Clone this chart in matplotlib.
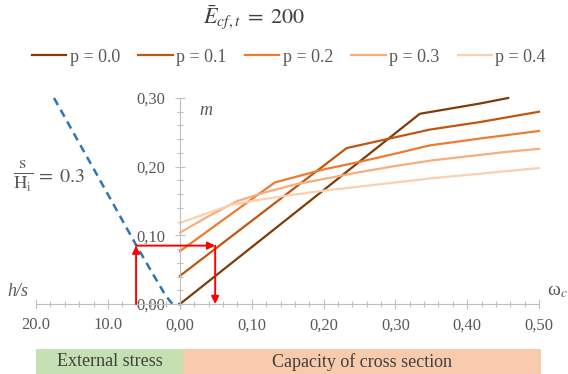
import matplotlib.pyplot as plt
from matplotlib.patches import Rectangle, ConnectionPatch
from matplotlib.ticker import MultipleLocator, FuncFormatter

plt.rcParams['font.family'] = ['Liberation Serif', 'DejaVu Serif']
plt.rcParams['mathtext.fontset'] = 'stix'

# capacity curves m(omega_c) for each p
p_labels = ['p = 0.0', 'p = 0.1', 'p = 0.2', 'p = 0.3', 'p = 0.4']
colors = ['#7f3b08', '#c0560f', '#ee7b30', '#f6ae7d', '#fbd0b0']

w_p0 = [0.0, 0.334, 0.418, 0.457]
m_p0 = [0.0, 0.277, 0.292, 0.300]
w_p1 = [0.0, 0.232, 0.279, 0.348, 0.418, 0.50]
m_p1 = [0.041, 0.227, 0.238, 0.254, 0.265, 0.280]
w_p2 = [0.0, 0.132, 0.20, 0.25, 0.30, 0.348, 0.418, 0.50]
m_p2 = [0.077, 0.177, 0.196, 0.207, 0.219, 0.231, 0.241, 0.252]
w_p3 = [0.0, 0.04, 0.08, 0.12, 0.16, 0.20, 0.25, 0.30, 0.35, 0.40, 0.45, 0.50]
m_p3 = [0.104, 0.128, 0.150, 0.163, 0.174, 0.182, 0.192, 0.201, 0.209, 0.215, 0.221, 0.226]
w_p4 = [0.0, 0.04, 0.07, 0.10, 0.15, 0.20, 0.25, 0.30, 0.35, 0.40, 0.45, 0.50]
m_p4 = [0.118, 0.133, 0.144, 0.150, 0.158, 0.165, 0.171, 0.177, 0.183, 0.188, 0.193, 0.198]

w_all = [w_p0, w_p1, w_p2, w_p3, w_p4]
m_all = [m_p0, m_p1, m_p2, m_p3, m_p4]

# external stress curve m(h/s) for s/H_i = 0.3
hs_ext = [17.5, 12.0, 6.1, 3.0, 2.2, 1.6, 1.2, 0.9, 0.6, 0.0]
m_ext = [0.300, 0.197, 0.086, 0.030, 0.016, 0.007, 0.002, 0.0, 0.0, 0.0]

# reading example (red arrows)
hs_read = 6.1
m_read = 0.085
w_read = 0.049

grey = '#bfbfbf'
txt = '#595959'

fig = plt.figure(figsize=(5.68, 3.74), dpi=100)
ax = fig.add_axes([180/568, 70/374, 359/568, 206/374])
axl = fig.add_axes([36/568, 70/374, 144/568, 206/374])
for a in (ax, axl):
    a.set_facecolor('none')
    a.spines['top'].set_visible(False)
    a.spines['right'].set_visible(False)
    a.spines['bottom'].set_color(grey)
    a.spines['left'].set_color(grey)
    a.tick_params(which='major', direction='inout', length=7, width=0.8,
                  color=grey, labelsize=12, labelcolor=txt, pad=7)
    a.tick_params(which='minor', direction='inout', length=4, width=0.8, color=grey)
    a.set_ylim(0, 0.30)

# right part: capacity of cross section
for w, m, c, lab in zip(w_all, m_all, colors, p_labels):
    ax.plot(w, m, color=c, lw=1.6, label=lab, clip_on=False)
ax.set_xlim(0, 0.5)
ax.xaxis.set_major_locator(MultipleLocator(0.1))
ax.xaxis.set_minor_locator(MultipleLocator(0.02))
ax.yaxis.set_major_locator(MultipleLocator(0.1))
ax.yaxis.set_minor_locator(MultipleLocator(0.02))
comma = FuncFormatter(lambda v, _: f'{v:.2f}'.replace('.', ','))
ax.xaxis.set_major_formatter(comma)
ax.yaxis.set_major_formatter(comma)
ax.tick_params(axis='x', pad=6)

# left part: external stress
axl.plot(hs_ext, m_ext, color='#2e75b6', lw=1.8, ls=(0, (3.2, 2.2)), clip_on=False)
axl.set_xlim(20, 0)
axl.spines['left'].set_visible(False)
axl.set_yticks([])
axl.xaxis.set_major_locator(MultipleLocator(10))
axl.xaxis.set_minor_locator(MultipleLocator(2))
axl.xaxis.set_major_formatter(FuncFormatter(lambda v, _: f'{v:.1f}' if v > 0 else ''))
axl.tick_params(axis='x', pad=6)

# red arrows
arw = dict(arrowstyle='-|>', color='red', lw=1.4, mutation_scale=11, shrinkA=0, shrinkB=0)
axl.annotate('', xy=(hs_read, m_read), xytext=(hs_read, 0), arrowprops=arw, annotation_clip=False)
con = ConnectionPatch(xyA=(hs_read, m_read), coordsA=axl.transData,
                      xyB=(w_read, m_read), coordsB=ax.transData, **arw)
fig.add_artist(con)
ax.annotate('', xy=(w_read, 0), xytext=(w_read, m_read), arrowprops=arw, annotation_clip=False)

# labels
ax.text(0.072, 0.937, 'm', transform=ax.transAxes, fontsize=13, style='italic',
        color=txt, ha='center', va='center')
fig.text(18/568, 1 - 292/374, 'h/s', fontsize=13, style='italic', color=txt,
         ha='center', va='center')
fig.text(557/568, 1 - 292/374, 'ω$_c$', fontsize=14, color=txt, ha='center', va='center')
fig.text(23/568, 1 - 176/374, r'$\frac{\mathrm{s}}{\mathrm{H_i}}$', fontsize=19,
         color=txt, ha='center', va='center')
fig.text(36/568, 1 - 177/374, r'$=\;0.3$', fontsize=14.5,
         color=txt, ha='left', va='center')
fig.text(254/568, 1 - 18/374, r'$\bar{E}_{cf,t}\;=\;200$', fontsize=16, color='#404040',
         ha='center', va='center')

fig.legend(loc='center', bbox_to_anchor=(289/568, 1 - 57/374), ncol=5, frameon=False,
           fontsize=13, labelcolor=txt, handlelength=1.9, handletextpad=0.2,
           columnspacing=1.0)

# bottom bands
fig.add_artist(Rectangle((36/568, 0), 147/568, 25/374, transform=fig.transFigure,
                         facecolor='#c5e0b3', edgecolor='none'))
fig.add_artist(Rectangle((183/568, 0), 358/568, 25/374, transform=fig.transFigure,
                         facecolor='#f8cbad', edgecolor='none'))
fig.text(110/568, 12/374, 'External stress', fontsize=13, color='#404040',
         ha='center', va='center')
fig.text(362/568, 12/374, 'Capacity of cross section', fontsize=13, color='#404040',
         ha='center', va='center')

fig.savefig('out.png', dpi=100)
